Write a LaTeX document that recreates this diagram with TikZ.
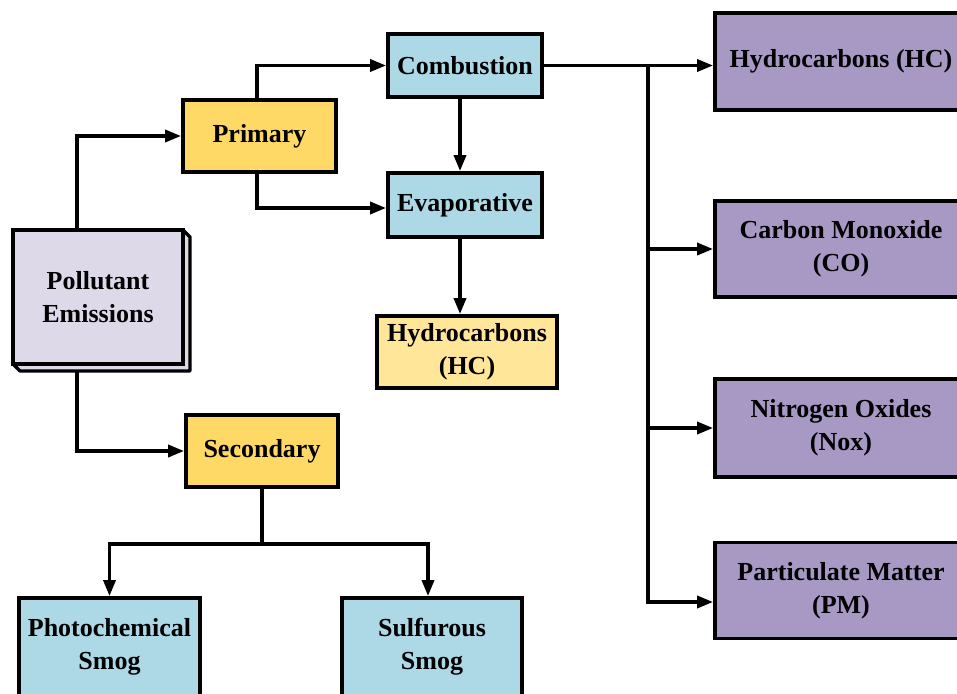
\documentclass[tikz,border=0pt]{standalone}
\usepackage{fontspec}
\setmainfont{Liberation Serif}
\usetikzlibrary{arrows.meta,backgrounds}

\definecolor{boxpurple}{RGB}{167,152,196}
\definecolor{boxblue}{RGB}{173,216,230}
\definecolor{boxyellow}{RGB}{255,217,102}
\definecolor{boxpaleyellow}{RGB}{255,230,153}
\definecolor{boxlavender}{RGB}{221,217,232}

\tikzset{
  block/.style={draw=black, line width=3.8pt, rectangle, align=center,
    inner sep=2pt, font=\fontsize{26}{33}\selectfont\bfseries},
  link/.style={line width=3.4pt, draw=black,
    -{Triangle[length=16pt,width=12pt]}},
  plain/.style={line width=3.4pt, draw=black},
}

\begin{document}
\begin{tikzpicture}[x=1pt,y=-1pt]
\useasboundingbox (0,0) rectangle (957,693);
\clip (0,0) rectangle (957,693);

% raised source block: extruded sides first, face on top
\filldraw[fill=boxlavender, draw=black, line width=3.4pt, line join=round]
  (183,230) -- (190,237) -- (190,371) -- (20,371) -- (13,364) -- (183,364) -- cycle;
\node[block, fill=boxlavender, minimum width=170pt, minimum height=134pt] (pe) at (98,297)
  {Pollutant\\Emissions};

% first level
\node[block, fill=boxyellow, minimum width=153pt, minimum height=72pt] (prim) at (259.5,136) {Primary};
\node[block, fill=boxyellow, minimum width=152pt, minimum height=72pt] (sec) at (262,451) {Secondary};

% primary branch
\node[block, fill=boxblue, minimum width=154pt, minimum height=63pt] (comb) at (465,65.5) {Combustion};
\node[block, fill=boxblue, minimum width=154pt, minimum height=64pt] (evap) at (465,205) {Evaporative};
\node[block, fill=boxpaleyellow, minimum width=180pt, minimum height=72pt] (hcevap) at (467,352)
  {Hydrocarbons\\(HC)};

% combustion products
\node[block, fill=boxpurple, minimum width=252pt, minimum height=97pt] (hc) at (841,61.5) {Hydrocarbons (HC)};
\node[block, fill=boxpurple, minimum width=252pt, minimum height=96pt] (co) at (841,249) {Carbon Monoxide\\(CO)};
\node[block, fill=boxpurple, minimum width=252pt, minimum height=98pt] (nox) at (841,428) {Nitrogen Oxides\\(Nox)};
\node[block, fill=boxpurple, minimum width=252pt, minimum height=96pt] (pm) at (841,590.5) {Particulate Matter\\(PM)};

% secondary branch
\node[block, fill=boxblue, minimum width=181pt, minimum height=98pt] (photo) at (109.5,647) {Photochemical\\Smog};
\node[block, fill=boxblue, minimum width=180pt, minimum height=98pt] (sulf) at (432,647) {Sulfurous\\Smog};

\coordinate (trunk) at (648,65.5);
\coordinate (split) at (262,544);
\coordinate (pmin) at ([yshift=-11.5pt]pm.west);

\begin{scope}[on background layer]
  \draw[link] ([xshift=66pt]pe.north west) |- (prim.west);
  \draw[link] ([xshift=66pt]pe.south west) |- (sec.west);
  \draw[link] ([xshift=-2.5pt]prim.north) |- (comb.west);
  \draw[link] ([xshift=-2.5pt]prim.south) |- ([yshift=-3pt]evap.west);
  \draw[link] ([xshift=-5pt]comb.south) -- ([xshift=-5pt]evap.north);
  \draw[link] ([xshift=-5pt]evap.south) -- ([xshift=-7pt]hcevap.north);
  \draw[link] (comb.east) -- (hc.west |- comb.east);
  \draw[link] (trunk) |- (pmin);
  \draw[link] (trunk |- co.west) -- (co.west);
  \draw[link] (trunk |- nox.west) -- (nox.west);
  \draw[plain] (sec.south) -- (split);
  \draw[link] (split) -| (photo.north);
  \draw[link] (split) -| ([xshift=-4pt]sulf.north);
\end{scope}
\end{tikzpicture}
\end{document}
